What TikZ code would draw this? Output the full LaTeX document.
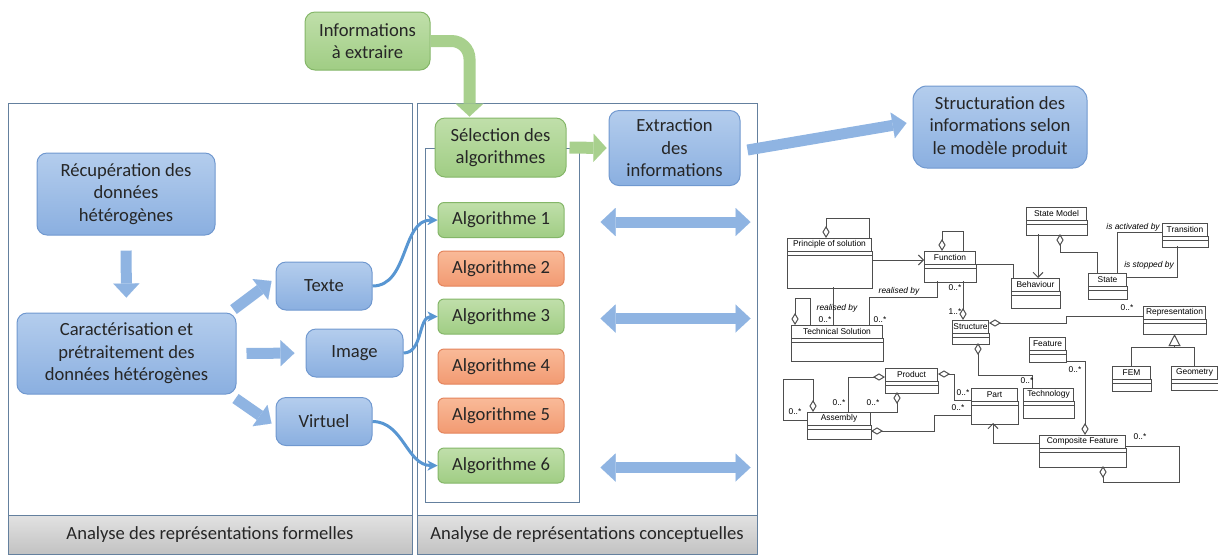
\documentclass[tikz,border=0pt]{standalone}
\usepackage{fontspec}
\setmainfont{Carlito}
\newfontfamily\umlsans{Liberation Sans}
\usepackage{tikz}
\usetikzlibrary{arrows.meta, calc}
\definecolor{panelL}{RGB}{100,128,158}
\definecolor{bandT}{RGB}{226,226,226}
\definecolor{bandB}{RGB}{194,194,194}
\definecolor{boxBT}{RGB}{180,205,237}
\definecolor{boxBB}{RGB}{138,175,224}
\definecolor{boxBL}{RGB}{112,152,207}
\definecolor{boxGT}{RGB}{192,223,170}
\definecolor{boxGB}{RGB}{160,205,132}
\definecolor{boxGL}{RGB}{132,182,104}
\definecolor{boxOT}{RGB}{249,186,152}
\definecolor{boxOB}{RGB}{242,154,114}
\definecolor{boxOL}{RGB}{228,132,92}
\definecolor{arrB}{RGB}{143,180,226}
\definecolor{arrG}{RGB}{168,208,141}
\definecolor{linkB}{RGB}{88,150,210}
\definecolor{umlG}{RGB}{78,78,78}
\newcommand{\mainfs}{\fontsize{9.3}{11.3}\selectfont}
\newcommand{\umlfs}{\umlsans\fontsize{4.2}{5}\selectfont}
% one UML class: id, x, y (top left, px), width (px), body height (px), name
\newcommand{\umlclass}[6]{%
  \node[umlhead, anchor=north west, minimum width={#4*0.5pt}] (#1) at (#2,#3) {#6};
  \draw[umlline] (#1.south west) rectangle ($(#1.south east)+(0,#5)$);
  \draw[umlline] ($(#1.south west)+(0,3.5)$) -- ($(#1.south east)+(0,3.5)$);}
\tikzset{
  panel/.style={draw=panelL, line width=0.5pt},
  band/.style={top color=bandT, bottom color=bandB},
  bandlbl/.style={font=\mainfs, text=black!85, inner sep=0pt},
  box/.style={rounded corners=5pt, align=center, inner sep=1pt, font=\mainfs, text=black!85, line width=0.5pt},
  boxB/.style={box, draw=boxBL, top color=boxBT, bottom color=boxBB},
  boxG/.style={box, draw=boxGL, top color=boxGT, bottom color=boxGB},
  boxO/.style={box, draw=boxOL, top color=boxOT, bottom color=boxOB},
  alg/.style={rounded corners=3pt, minimum width=63pt, minimum height=17.5pt},
  fatB/.style={draw=arrB, line width=5.5pt, -{Triangle[length=7pt,width=13pt,line width=0.01pt]}},
  fatG/.style={draw=arrG, line width=6pt, -{Triangle[length=6.5pt,width=14pt,line width=0.01pt]}},
  dblB/.style={draw=arrB, line width=5.5pt,
    {Triangle[length=7.5pt,width=14pt,line width=0.01pt]}-{Triangle[length=7.5pt,width=14pt,line width=0.01pt]}},
  linkarr/.style={draw=linkB, line width=1.5pt, -{Stealth[length=5pt,width=5pt,line width=0.01pt]}},
  umlline/.style={draw=umlG, line width=0.5pt},
  umlhead/.style={umlline, font=\umlfs, inner sep=0pt, minimum height=6.25pt},
  agg/.style={umlline, {Diamond[open,length=6pt,width=3.6pt]}-},
  aggend/.style={umlline, -{Diamond[open,length=6pt,width=3.6pt]}},
  nav/.style={umlline, -{Straight Barb[length=2.5pt,width=5pt]}},
  gen/.style={umlline, -{Triangle[open,length=6pt,width=6pt]}},
  mult/.style={font=\umlfs, inner sep=0pt},
  role/.style={font=\umlfs\itshape, inner sep=0pt},
}
\begin{document}
\begin{tikzpicture}[x=0.5pt, y=-0.5pt]
\useasboundingbox (0,0) rectangle (1218,554);
% ===== panels =====
\draw[panel] (8,103) rectangle (412,554);
\draw[panel, band] (8,515) rectangle (412,554);
\node[bandlbl] (lblF) at (210,535) {Analyse des représentations formelles};
\draw[panel] (417,103) rectangle (757,554);
\draw[panel, band] (417,515) rectangle (757,554);
\node[bandlbl] (lblC) at (587,535) {Analyse de représentations conceptuelles};
\draw[panel, fill=white] (425,148) rectangle (579,502);
% ===== left panel: heterogeneous data =====
\node[boxB, minimum width=89pt, minimum height=41pt] (recup) at (126,194) {Récupération des\\données\\hétérogènes};
\node[boxB, minimum width=109.5pt, minimum height=40.5pt] (carac) at (126.5,353.5) {Caractérisation et\\prétraitement des\\données hétérogènes};
\node[boxB, minimum width=48pt, minimum height=24pt] (texte) at (324,286) {Texte};
\node[boxB, minimum width=48.5pt, minimum height=24pt] (image) at (354.5,353) {Image};
\node[boxB, minimum width=48pt, minimum height=24pt] (virtuel) at (324,421.5) {Virtuel};
\draw[fatB, shorten <=7.5pt, shorten >=7.5pt] (recup) -- (carac);
\draw[fatB] ($(carac.north east)+(-3,-3)$) -- ($(texte.west)+(-4,-5)$);
\draw[fatB, shorten <=5pt, shorten >=5.5pt] (carac.east) -- (image.west);
\draw[fatB] ($(carac.south east)+(-1,4)$) -- ($(virtuel.west)+(-4,2)$);
% ===== right panel: algorithms =====
\node[boxG, minimum width=62.5pt, minimum height=29pt] (info) at (367.5,41) {Informations\\à extraire};
\node[boxG, minimum width=65.5pt, minimum height=29.5pt] (sel) at (500.5,147.5) {Sélection des\\algorithmes};
\node[boxB, minimum width=65.5pt, minimum height=37.5pt] (ext) at (674.5,148) {Extraction\\des\\informations};
\node[boxB, rounded corners=7pt, minimum width=87pt, minimum height=41pt] (struc) at (1000,127) {Structuration des\\informations selon\\le modèle produit};
\foreach \i/\y/\s in {1/220/boxG, 2/268.5/boxO, 3/316.5/boxG, 4/366.5/boxO, 5/415.5/boxO, 6/465.5/boxG}
  \node[\s, alg] (alg\i) at (501,\y) {Algorithme \i};
\draw[linkarr] (texte.east) to[out=0,in=180] (alg1.west);
\draw[linkarr] (image.east) to[out=0,in=180] (alg3.west);
\draw[linkarr] (virtuel.east) to[out=0,in=180] (alg6.west);
\draw[fatG, rounded corners=9pt, shorten >=0.5pt] (info.east) -| ($(sel.north)+(-31,0)$);
\draw[fatG, shorten <=1.5pt, shorten >=1pt] (sel.east) -- (ext.west);
\draw[fatB] ($(ext.east)+(7,2)$) -- ($(struc.west)+(-6,-4)$);
\foreach \i in {1,3,6}{
  \coordinate (dl\i) at ($(alg\i.east)+(36,2)$);
  \coordinate (dr\i) at ($(alg\i.east)+(186,2)$);
  \draw[dblB] (dl\i) -- (dr\i);
}
% ===== product model (UML) =====
\umlclass{pos}{787}{238}{84}{36.5}{Principle of solution}
\umlclass{fct}{924}{251}{51}{17.5}{Function}
\umlclass{tsol}{791}{325}{91}{22.5}{Technical Solution}
\umlclass{stru}{952}{320}{36}{10.5}{Structure}
\umlclass{beh}{1011}{278}{48}{16.5}{Behaviour}
\umlclass{smod}{1026}{207}{60}{14.5}{State Model}
\umlclass{stat}{1088}{273}{38}{12.5}{State}
\umlclass{trans}{1162}{223}{45}{10.5}{Transition}
\umlclass{repr}{1143}{306}{62}{14.5}{Representation}
\umlclass{fem}{1112}{366}{38}{11.5}{FEM}
\umlclass{geo}{1171}{366}{46}{10.5}{Geometry}
\umlclass{feat}{1029}{337}{36}{11.5}{Feature}
\umlclass{tech}{1023}{388}{50}{16.5}{Technology}
\umlclass{part}{971}{388}{46}{22.5}{Part}
\umlclass{prod}{885}{368}{52}{11.5}{Product}
\umlclass{asm}{807}{412}{63}{13.5}{Assembly}
\umlclass{cfeat}{1039}{435}{86}{18.5}{Composite Feature}
% links
\draw[agg] ($(pos.north west)+(39,0)$) -- ++(0,-20) -| ($(pos.north west)+(82,0)$);
\draw[nav] ($(pos.north east)+(0,22)$) -- ($(fct.north west)+(0,9)$);
\draw[agg] ($(fct.north west)+(18,0)$) -- ++(0,-20) -| ($(fct.north west)+(39,0)$);
\draw[umlline] ($(fct.north east)+(0,13)$) -| ($(beh.north west)+(2,0)$);
\draw[nav] ($(smod.north west)+(12,27)$) -- ($(beh.north west)+(27,0)$);
\draw[agg] ($(smod.north west)+(34,27)$) |- ($(stat.north west)+(9,-21)$) -- ($(stat.north west)+(9,0)$);
\draw[umlline] ($(stat.north west)+(29,0)$) |- ($(trans.north west)+(0,9)$);
\draw[umlline] ($(trans.north west)+(15,23)$) |- ($(stat.north east)+(0,4)$);
\draw[umlline] ($(pos.north west)+(46,49)$) -- ($(tsol.north west)+(42,0)$);
\draw[umlline] ($(fct.north west)+(13,30)$) |- ($(tsol.north west)+(78,-28)$) -- ($(tsol.north west)+(78,0)$);
\draw[agg] ($(tsol.north west)+(4,0)$) -- ++(0,-27) -| ($(tsol.north west)+(19,0)$);
\draw[aggend] ($(fct.north west)+(39,30)$) -- ($(stru.north west)+(11,0)$);
\draw[agg] ($(stru.north east)+(0,3)$) -- ++(77,0) |- ($(repr.north west)+(0,10)$);
\draw[umlline] (fem.north) |- ($(repr.south)+(0,28)$) -| (geo.north);
\draw[gen] ($(repr.south)+(0,28)$) -- ($(repr.south)+(0,14.5)$);
\draw[agg] ($(stru.north west)+(26,23)$) |- ($(tech.north west)+(9,-13)$) -- ($(tech.north west)+(9,0)$);
\draw[aggend] ($(feat.north east)+(0,24)$) -| ($(cfeat.north west)+(46,0)$);
\draw[agg] ($(cfeat.north west)+(64,31)$) -- ++(0,16) -| ($(cfeat.north east)+(53,11)$) -- ($(cfeat.north east)+(0,11)$);
\draw[nav] ($(cfeat.north west)+(0,8)$) -| ($(part.north west)+(22,35)$);
\draw[agg] ($(prod.north east)+(0,6)$) -- ++(16,0) |- ($(part.north west)+(0,12)$);
\draw[agg] ($(asm.north east)+(0,19)$) -- ++(63,0) |- ($(part.north west)+(0,27)$);
\draw[agg] ($(prod.north west)+(0,9)$) -| ($(asm.north west)+(41,0)$);
\draw[agg] ($(prod.north west)+(12,24)$) |- (asm.north east);
\draw[agg] ($(asm.north west)+(6,0)$) -- ++(0,-33) -| ($(asm.north west)+(-24,8)$) -- ($(asm.north west)+(0,8)$);
% role names and multiplicities
\node[role] (r1) at (837,308) {realised by};
\node[role] (r2) at (899,291) {realised by};
\node[role] (r3) at (1133,227) {is activated by};
\node[role] (r4) at (1149,265) {is stopped by};
\node[mult] (m0) at (955,312) {1..*};
\foreach \x/\y [count=\k] in {825/320, 880/320, 955/288, 1127/308, 1027/381, 1075/370, 1140/437, 963/393, 958/408, 839/403, 873/403, 795/412}
  \node[mult] (m\k) at (\x,\y) {0..*};
\end{tikzpicture}
\end{document}
